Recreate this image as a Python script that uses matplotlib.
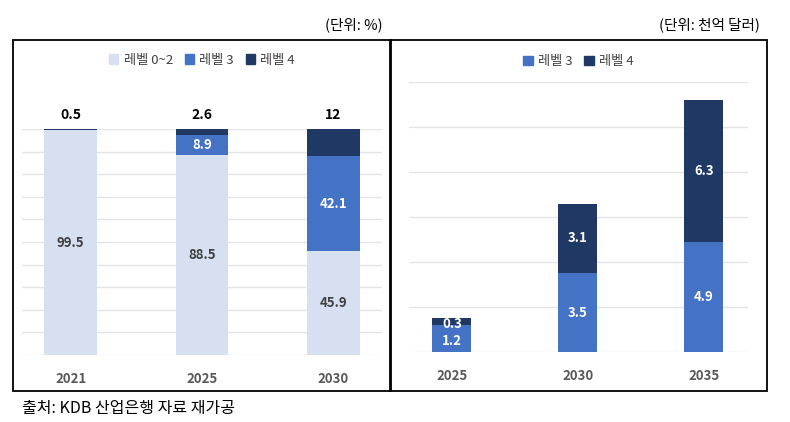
import matplotlib.pyplot as plt
from matplotlib.patches import Patch, Rectangle
import numpy as np

plt.rcParams['font.family'] = ['Noto Sans CJK KR', 'DejaVu Sans']

# left chart: share by autonomy level (%)
years_l = ['2021', '2025', '2030']
lv02 = [99.5, 88.5, 45.9]
lv3_l = [0.0, 8.9, 42.1]
lv4_l = [0.5, 2.6, 12]
lv3_l_lab = ['', '8.9', '42.1']
lv4_l_lab = ['0.5', '2.6', '12']

# right chart: market size (100 billion USD)
years_r = ['2025', '2030', '2035']
lv3_r = [1.2, 3.5, 4.9]
lv4_r = [0.3, 3.1, 6.3]

c_light = '#D6E0F1'
c_mid = '#4472C4'
c_dark = '#203864'
c_grid = '#E4E4E4'
c_tick = '#595959'

W, H = 790, 422
fig = plt.figure(figsize=(W / 100, H / 100), dpi=100)

def box(x0, y0, x1, y1):
    return [x0 / W, 1 - y1 / H, (x1 - x0) / W, (y1 - y0) / H]

# frames around the two panels
for (x0, x1) in [(13, 391), (390, 767)]:
    fig.patches.append(Rectangle((x0 / W, 1 - 391 / H), (x1 - x0) / W, 351 / H,
                                 transform=fig.transFigure, fill=False,
                                 edgecolor='black', lw=1.3))

# ---- left panel
ax1 = fig.add_axes(box(22, 129, 382, 355))
x = np.arange(len(years_l))
w = 0.4
ax1.bar(x, lv02, w, color=c_light, zorder=2)
ax1.bar(x, lv3_l, w, bottom=lv02, color=c_mid, zorder=2)
b3 = np.array(lv02) + np.array(lv3_l)
ax1.bar(x, lv4_l, w, bottom=b3, color=c_dark, zorder=2)
ax1.set_ylim(0, 100)
ax1.set_xlim(-0.37, 2.37)
ax1.set_yticks(np.arange(0, 101, 10))
ax1.yaxis.grid(True, color=c_grid, lw=1)
ax1.set_axisbelow(True)
for i in range(len(years_l)):
    ax1.text(x[i], lv02[i] / 2, f'{lv02[i]}', ha='center', va='center',
             fontsize=9.5, fontweight='bold', color='#404040', zorder=3)
    if lv3_l_lab[i]:
        ax1.text(x[i], lv02[i] + lv3_l[i] / 2, lv3_l_lab[i], ha='center',
                 va='center', fontsize=9.5, fontweight='bold', color='white', zorder=3)
    ax1.text(x[i], 106, lv4_l_lab[i], ha='center', va='center', fontsize=10,
             fontweight='bold', color='black', clip_on=False)

ax1.legend(handles=[Patch(color=c_light, label='레벨 0~2'),
                    Patch(color=c_mid, label='레벨 3'),
                    Patch(color=c_dark, label='레벨 4')],
           loc='center', bbox_to_anchor=(0.5, 1.305), ncol=3, frameon=False,
           fontsize=9.5, handlelength=0.7, handleheight=0.7, handletextpad=0.4,
           columnspacing=0.9, labelcolor='#404040')

# ---- right panel
ax2 = fig.add_axes(box(409, 82, 748, 352))
xr = np.arange(len(years_r))
wr = 0.31
ax2.bar(xr, lv3_r, wr, color=c_mid, zorder=2)
ax2.bar(xr, lv4_r, wr, bottom=lv3_r, color=c_dark, zorder=2)
ax2.set_ylim(0, 12)
ax2.set_xlim(-0.34, 2.35)
ax2.set_yticks(np.arange(0, 13, 2))
ax2.yaxis.grid(True, color=c_grid, lw=1)
ax2.set_axisbelow(True)
for i in range(len(years_r)):
    y3 = lv3_r[i] / 2 if lv3_r[i] > 2 else lv3_r[i] * 0.4
    ax2.text(xr[i], y3, f'{lv3_r[i]}', ha='center', va='center', fontsize=9.5,
             fontweight='bold', color='white', zorder=3)
    y4 = lv3_r[i] + lv4_r[i] / 2 if lv4_r[i] > 1 else lv3_r[i] + 0.05
    ax2.text(xr[i], y4, f'{lv4_r[i]}', ha='center', va='center', fontsize=9.5,
             fontweight='bold', color='white', zorder=3)

ax2.legend(handles=[Patch(color=c_mid, label='레벨 3'),
                    Patch(color=c_dark, label='레벨 4')],
           loc='center', bbox_to_anchor=(0.5, 1.075), ncol=2, frameon=False,
           fontsize=9.5, handlelength=0.7, handleheight=0.7, handletextpad=0.4,
           columnspacing=0.9, labelcolor='#404040')

for ax, labs in [(ax1, years_l), (ax2, years_r)]:
    ax.set_xticks(np.arange(len(labs)))
    ax.set_xticklabels(labs, fontsize=9.5, fontweight='bold', color=c_tick)
    ax.tick_params(axis='x', length=0, pad=12)
    ax.tick_params(axis='y', length=0, labelleft=False)
    for s in ax.spines.values():
        s.set_visible(False)

fig.text(383 / W, 1 - 25 / H, '(단위: %)', ha='right', va='center', fontsize=10.5)
fig.text(760 / W, 1 - 25 / H, '(단위: 천억 달러)', ha='right', va='center', fontsize=10.5)
fig.text(22 / W, 1 - 408 / H, '출처: KDB 산업은행 자료 재가공', ha='left', va='center',
         fontsize=11.5)

fig.savefig('out.png', dpi=100)
